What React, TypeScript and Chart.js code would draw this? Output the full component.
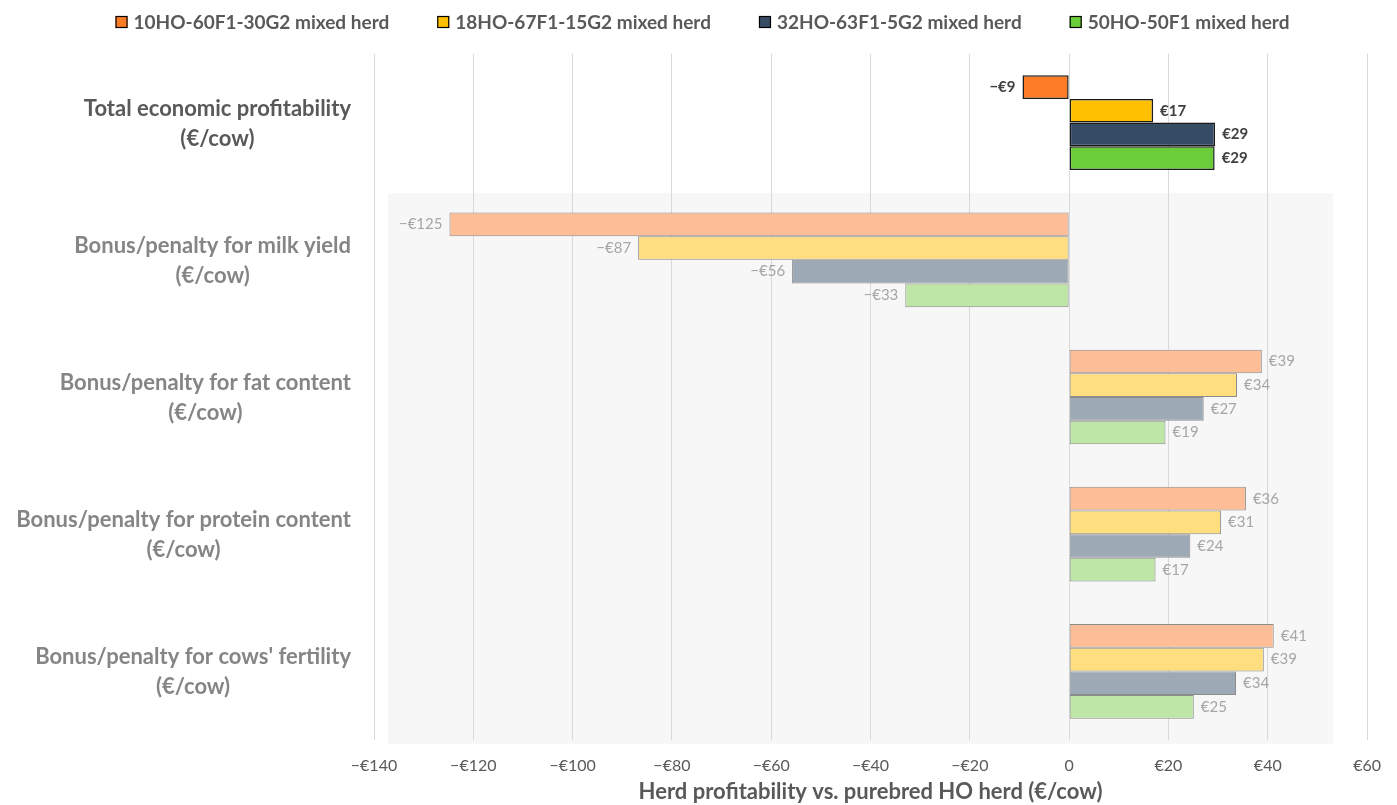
import React, { useEffect, useRef } from 'react';
import { Chart, registerables } from 'chart.js';

Chart.register(...registerables);

// ---- data ----
const categoryLines: string[][] = [
  ['Total economic profitability', '(€/cow)'],
  ['Bonus/penalty for milk yield', '(€/cow)'],
  ['Bonus/penalty for fat content', '(€/cow)'],
  ['Bonus/penalty for protein content', '(€/cow)'],
  ["Bonus/penalty for cows' fertility", '(€/cow)'],
];
const seriesNames = [
  '10HO-60F1-30G2 mixed herd',
  '18HO-67F1-15G2 mixed herd',
  '32HO-63F1-5G2 mixed herd',
  '50HO-50F1 mixed herd',
];
const herd10 = [-9.4, -124.8, 38.8, 35.6, 41.2];
const herd18 = [16.9, -86.8, 33.8, 30.6, 39.2];
const herd32 = [29.4, -55.8, 27.1, 24.4, 33.6];
const herd50 = [29.3, -33.0, 19.4, 17.4, 25.1];
const xTicksMin = -140;
const xTicksMax = 60;
const xTickStep = 20;
const xAxisTitle = 'Herd profitability vs. purebred HO herd (€/cow)';

// ---- styles ----
const FONT = 'Lato, "Open Sans", sans-serif';
const strongColors = ['#FF7C26', '#FFC000', '#364B64', '#6ACD3A'];
const fadedColors = ['#FDBE97', '#FFDE7F', '#9DA9B5', '#BEE6A7'];

const fmtEuro = (v: number) => {
  const r = Math.round(v);
  if (r === 0) return '0';
  return r < 0 ? '\u2212€' + Math.abs(r) : '€' + r;
};

const bgPlugin = {
  id: 'bgRect',
  beforeDraw(chart: any) {
    const { ctx, chartArea, scales } = chart;
    const y = scales.y;
    const top = (y.getPixelForTick(0) + y.getPixelForTick(1)) / 2 + 2;
    const left = chartArea.left + 14;
    const right = chartArea.right - 34;
    ctx.save();
    ctx.fillStyle = '#F7F7F7';
    ctx.fillRect(left, top, right - left, chartArea.bottom + 4 - top);
    ctx.restore();
  },
};

const yLabelPlugin = {
  id: 'yLabels',
  afterDraw(chart: any) {
    const { ctx, scales } = chart;
    const y = scales.y;
    const rightX = 351;
    ctx.save();
    ctx.font = `bold 22px ${FONT}`;
    ctx.textBaseline = 'middle';
    ctx.textAlign = 'center';
    categoryLines.forEach((lines, i) => {
      const cy = y.getPixelForTick(i);
      const w = ctx.measureText(lines[0]).width;
      const cx = rightX - w / 2;
      ctx.fillStyle = i === 0 ? '#595959' : '#858585';
      ctx.fillText(lines[0], cx, cy - 14);
      ctx.fillText(lines[1], cx, cy + 16);
    });
    ctx.restore();
  },
};

const dataLabelPlugin = {
  id: 'dataLabels',
  afterDatasetsDraw(chart: any) {
    const { ctx } = chart;
    ctx.save();
    ctx.textBaseline = 'middle';
    chart.data.datasets.forEach((ds: any, di: number) => {
      const meta = chart.getDatasetMeta(di);
      meta.data.forEach((el: any, i: number) => {
        const v = ds.data[i];
        ctx.font = i === 0 ? `bold 15px ${FONT}` : `15px ${FONT}`;
        ctx.fillStyle = i === 0 ? '#404040' : '#A6A6A6';
        if (v < 0) {
          ctx.textAlign = 'right';
          ctx.fillText(fmtEuro(v), el.x - 7, el.y);
        } else {
          ctx.textAlign = 'left';
          ctx.fillText(fmtEuro(v), el.x + 7, el.y);
        }
      });
    });
    ctx.restore();
  },
};

const legendPlugin = {
  id: 'customLegend',
  afterDraw(chart: any) {
    const { ctx, width } = chart;
    const box = 12;
    const gap = 6;
    const spacing = 48;
    const cy = 22;
    ctx.save();
    ctx.font = `bold 19px ${FONT}`;
    const widths = seriesNames.map((n) => ctx.measureText(n).width);
    const total = widths.reduce((a, w) => a + box + gap + w, 0) + spacing * (seriesNames.length - 1);
    let x = width / 2 + 4 - total / 2;
    ctx.textBaseline = 'middle';
    ctx.textAlign = 'left';
    seriesNames.forEach((n, i) => {
      ctx.fillStyle = strongColors[i];
      ctx.fillRect(x, cy - box / 2, box, box);
      ctx.strokeStyle = '#000';
      ctx.lineWidth = 1.2;
      ctx.strokeRect(x + 0.5, cy - box / 2 + 0.5, box - 1, box - 1);
      ctx.fillStyle = '#595959';
      ctx.fillText(n, x + box + gap, cy + 1);
      x += box + gap + widths[i] + spacing;
    });
    ctx.restore();
  },
};

export default function App() {
  const ref = useRef<HTMLCanvasElement | null>(null);
  useEffect(() => {
    if (!ref.current) return;
    const series = [herd10, herd18, herd32, herd50];
    const chart = new Chart(ref.current, {
      type: 'bar',
      data: {
        labels: categoryLines.map((l) => l.join(' ')),
        datasets: series.map((d, si) => ({
          label: seriesNames[si],
          data: d,
          backgroundColor: d.map((_, i) => (i === 0 ? strongColors[si] : fadedColors[si])),
          borderColor: d.map((_, i) => (i === 0 ? '#1A1A1A' : '#8C8C8C')),
          borderWidth: d.map((_, i) => (i === 0 ? 1.5 : 1)),
          borderSkipped: false,
          categoryPercentage: 0.69,
          barPercentage: 1,
        })),
      },
      options: {
        indexAxis: 'y',
        animation: false,
        responsive: true,
        maintainAspectRatio: false,
        layout: { padding: { top: 54, right: 24, left: 0, bottom: 0 } },
        plugins: {
          legend: { display: false },
          tooltip: { enabled: false },
        },
        scales: {
          x: {
            min: xTicksMin,
            max: xTicksMax,
            ticks: {
              stepSize: xTickStep,
              color: '#595959',
              font: { family: FONT, size: 16 },
              padding: 16,
              callback: (v: any) => fmtEuro(Number(v)),
            },
            grid: { color: '#D9D9D9', drawTicks: false, lineWidth: 1 },
            border: { display: false },
            title: {
              display: true,
              text: xAxisTitle,
              color: '#595959',
              font: { family: FONT, size: 22, weight: 'bold' },
              padding: { top: 0, bottom: 0 },
            },
            afterFit: (s: any) => {
              s.height = 65;
            },
          },
          y: {
            ticks: { display: false },
            grid: { display: false },
            border: { display: false },
            afterFit: (s: any) => {
              s.width = 374;
            },
          },
        },
      },
      plugins: [bgPlugin, dataLabelPlugin, yLabelPlugin, legendPlugin],
    } as any);
    return () => chart.destroy();
  }, []);
  return (
    <div style={{ position: 'fixed', left: 0, top: 0, width: 1397, height: 805, background: '#fff' }}>
      <canvas ref={ref} />
    </div>
  );
}
